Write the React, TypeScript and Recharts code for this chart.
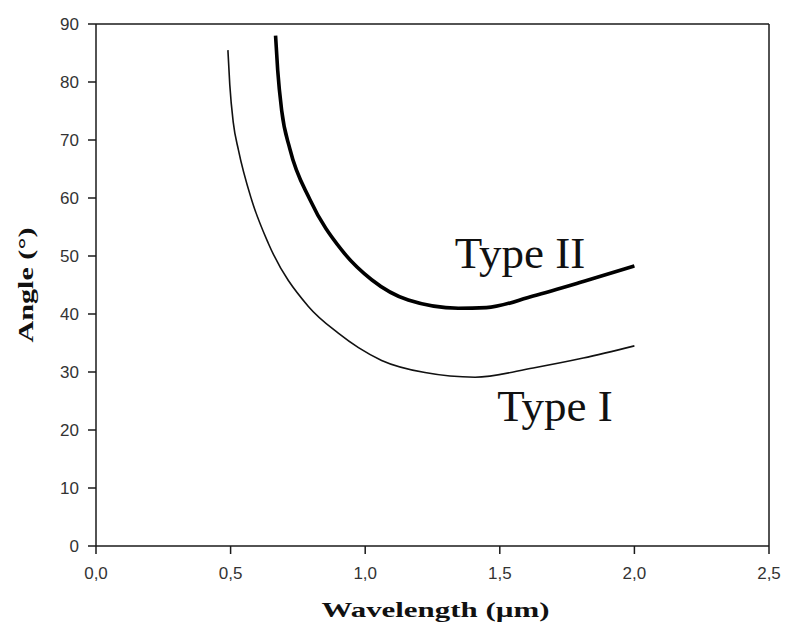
import React from 'react';
import { LineChart, Line, XAxis, YAxis, ReferenceLine, ReferenceDot } from 'recharts';

const typeIWavelength = [0.49, 0.497, 0.51, 0.529, 0.578, 0.64, 0.789, 0.9, 0.975, 1.061, 1.222, 1.408, 1.624, 1.81, 2.0];
const typeIAngle = [85.5, 79.5, 73.0, 68.3, 59.7, 52.2, 41.3, 36.7, 34.2, 32.0, 29.9, 29.1, 30.7, 32.4, 34.5];

const typeIIWavelength = [0.667, 0.675, 0.69, 0.72, 0.795, 0.913, 1.024, 1.16, 1.346, 1.45, 1.624, 1.81, 2.0];
const typeIIAngle = [88.0, 82.0, 75.0, 68.5, 59.7, 51.0, 45.9, 42.4, 41.0, 41.1, 43.1, 45.6, 48.3];

const xTicks = [0, 0.5, 1.0, 1.5, 2.0, 2.5];
const yTicks = [0, 10, 20, 30, 40, 50, 60, 70, 80, 90];

const typeIData = typeIWavelength.map((w, i) => ({ w, a: typeIAngle[i] }));
const typeIIData = typeIIWavelength.map((w, i) => ({ w, a: typeIIAngle[i] }));

const axisColor = '#1a1a1a';
const tickStyle = { fontFamily: '"Liberation Sans", Arial, sans-serif', fontSize: 17, fill: '#333' };

const XTitle = (props: any) => {
  const vb = props.viewBox;
  return (
    <text
      x={vb.x + vb.width / 2 + 3}
      y={vb.y + 71}
      textAnchor="middle"
      fontFamily='"Liberation Serif", "Times New Roman", serif'
      fontWeight="bold"
      fontSize={22}
      fill="#111"
      textLength={228}
      lengthAdjust="spacingAndGlyphs"
    >
      Wavelength (µm)
    </text>
  );
};

const YTitle = (props: any) => {
  const vb = props.viewBox;
  const cx = 33;
  const cy = vb.y + vb.height / 2;
  return (
    <text
      x={cx}
      y={cy}
      transform={`rotate(-90 ${cx} ${cy})`}
      textAnchor="middle"
      fontFamily='"Liberation Serif", "Times New Roman", serif'
      fontWeight="bold"
      fontSize={22}
      fill="#111"
      textLength={115}
      lengthAdjust="spacingAndGlyphs"
    >
      Angle (°)
    </text>
  );
};

const typeLabelStyle = { fontFamily: '"Liberation Serif", "Times New Roman", serif', fontSize: 45, fill: '#111' };

export default function App() {
  return (
    <div style={{ position: 'absolute', left: 0, top: 0, background: '#fff' }}>
      <LineChart width={787} height={635} margin={{ top: 24, right: 18, bottom: 0, left: 0 }}>
        <XAxis
          dataKey="w"
          type="number"
          domain={[0, 2.5]}
          ticks={xTicks}
          tickFormatter={(v: number) => v.toFixed(1).replace('.', ',')}
          allowDuplicatedCategory={false}
          height={89}
          tickSize={8}
          tickMargin={13}
          stroke={axisColor}
          strokeWidth={1.5}
          tick={tickStyle}
          label={{ content: XTitle }}
        />
        <YAxis
          dataKey="a"
          type="number"
          domain={[0, 90]}
          ticks={yTicks}
          width={96}
          tickSize={8}
          tickMargin={9}
          stroke={axisColor}
          strokeWidth={1.5}
          tick={tickStyle}
          label={{ content: YTitle }}
        />
        <ReferenceLine y={90} stroke={axisColor} strokeWidth={1.5} />
        <ReferenceLine x={2.5} stroke={axisColor} strokeWidth={1.5} />
        <Line data={typeIData} dataKey="a" type="monotone" stroke="#111" strokeWidth={1.6} dot={false} isAnimationActive={false} />
        <Line data={typeIIData} dataKey="a" type="monotone" stroke="#000" strokeWidth={3.6} dot={false} isAnimationActive={false} />
        <ReferenceDot x={1.575} y={50.7} r={0} fill="none" stroke="none" label={{ value: 'Type II', position: 'center', style: typeLabelStyle }} />
        <ReferenceDot x={1.705} y={24.3} r={0} fill="none" stroke="none" label={{ value: 'Type I', position: 'center', style: typeLabelStyle }} />
      </LineChart>
    </div>
  );
}
